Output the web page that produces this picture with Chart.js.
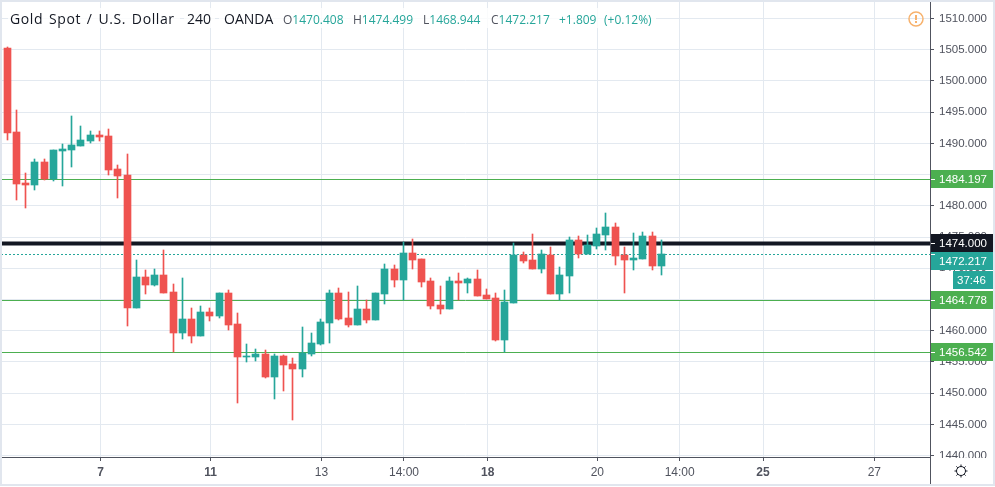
<!DOCTYPE html>
<html>
<head>
<meta charset="utf-8">
<title>Gold Spot / U.S. Dollar</title>
<script src="https://cdn.jsdelivr.net/npm/chart.js@4"></script>
<style>
    html, body { margin: 0; padding: 0; background: #fff; overflow: hidden; }
    #wrap { position: relative; width: 995px; height: 487px; }
    #priceChart { position: absolute; left: 0; top: 0; }
    #frame { position: absolute; left: 0; top: 0; width: 991px; height: 482px; border: 2px solid #e1e6ee; pointer-events: none; }
    .back { position: absolute; top: 8px; height: 20px; background: rgba(255, 255, 255, 0.8); }
    .head { position: absolute; top: 9px; white-space: pre; font-family: "Open Sans", sans-serif; }
    .title { font-size: 14px; color: #131722; }
    .wide { letter-spacing: 0.6px; word-spacing: 1.6px; }
    .ohlc { font-size: 12px; top: 11px; color: #26a69a; }
    .ohlc b { font-weight: normal; color: #50535e; }
</style>
</head>
<body>
<div id="wrap">
    <canvas id="priceChart" width="995" height="487"></canvas>
    <div class="back" style="left:8px;width:172px"></div>
    <div class="back" style="left:184px;width:31px"></div>
    <div class="back" style="left:219px;width:437px"></div>
    <span class="head title wide" style="left:10px">Gold Spot / U.S. Dollar</span>
    <span class="head title" style="left:187px">240</span>
    <span class="head title" style="left:224px">OANDA</span>
    <span class="head ohlc" style="left:283px"><b>O</b>1470.408</span>
    <span class="head ohlc" style="left:353px"><b>H</b>1474.499</span>
    <span class="head ohlc" style="left:423px"><b>L</b>1468.944</span>
    <span class="head ohlc" style="left:491px"><b>C</b>1472.217</span>
    <span class="head ohlc" style="left:559px">+1.809</span>
    <span class="head ohlc" style="left:604px">(+0.12%)</span>
    <div id="frame"></div>
</div>
<script>
// Candles
const openValues = [
    1505.22, 1491.77, 1483.65, 1483.37, 1487.01, 1484.24, 1488.77, 1488.93, 1489.57, 1490.37,
    1491.34, 1491.18, 1485.89, 1484.93, 1463.67, 1468.59, 1467.31, 1468.91, 1466.19, 1459.62,
    1461.86, 1459.14, 1462.98, 1462.34, 1466.03, 1461.06, 1455.78, 1455.78, 1456.26, 1452.57,
    1455.94, 1454.65, 1453.85, 1456.26, 1457.86, 1461.22, 1466.03, 1462.02, 1460.90, 1463.46,
    1461.70, 1465.87, 1469.87, 1468.11, 1472.43, 1471.47, 1467.95, 1464.11, 1463.46, 1467.95,
    1467.63, 1468.27, 1465.71, 1465.23, 1458.50, 1464.43, 1472.11, 1471.31, 1469.87, 1472.11,
    1465.87, 1468.75, 1474.52, 1472.27, 1473.56, 1475.32, 1476.60, 1472.11, 1471.31, 1471.47,
    1475.16, 1470.408
];
const highValues = [
    1505.38, 1495.34, 1485.25, 1487.49, 1487.49, 1488.93, 1489.89, 1494.38, 1492.78, 1491.98,
    1491.98, 1492.30, 1486.53, 1488.29, 1471.31, 1469.71, 1469.87, 1472.91, 1467.47, 1468.43,
    1463.62, 1463.94, 1463.62, 1466.03, 1466.51, 1462.82, 1457.86, 1457.06, 1456.90, 1456.26,
    1456.10, 1455.62, 1460.58, 1459.62, 1461.86, 1466.51, 1466.83, 1466.19, 1467.15, 1464.91,
    1466.03, 1470.67, 1470.51, 1474.20, 1474.68, 1471.47, 1468.43, 1467.15, 1468.59, 1469.23,
    1468.43, 1469.71, 1466.67, 1466.03, 1466.51, 1474.04, 1472.59, 1475.48, 1472.91, 1473.40,
    1470.19, 1475.00, 1475.16, 1475.32, 1476.44, 1478.84, 1477.24, 1473.40, 1475.64, 1475.80,
    1475.80, 1474.499
];
const lowValues = [
    1490.53, 1480.92, 1479.69, 1482.53, 1484.21, 1484.02, 1483.17, 1486.26, 1489.57, 1490.05,
    1490.37, 1484.93, 1481.24, 1460.74, 1463.67, 1465.87, 1467.15, 1466.03, 1456.53, 1458.66,
    1458.02, 1459.14, 1461.54, 1462.02, 1460.10, 1448.41, 1454.97, 1455.14, 1452.41, 1449.05,
    1450.33, 1445.68, 1452.57, 1455.94, 1457.70, 1458.02, 1461.70, 1460.58, 1460.90, 1461.22,
    1461.70, 1464.27, 1466.99, 1464.91, 1469.87, 1466.99, 1463.46, 1462.66, 1463.46, 1464.91,
    1466.03, 1465.55, 1465.07, 1458.34, 1456.58, 1464.43, 1470.83, 1469.87, 1469.23, 1465.87,
    1464.91, 1466.03, 1471.63, 1472.27, 1473.07, 1472.91, 1470.51, 1466.03, 1469.71, 1471.47,
    1469.71, 1468.944
];
const closeValues = [
    1491.70, 1483.53, 1483.33, 1487.01, 1484.24, 1488.93, 1489.09, 1489.73, 1490.53, 1491.34,
    1491.02, 1485.73, 1484.77, 1463.67, 1468.59, 1467.31, 1468.91, 1466.03, 1459.62, 1461.86,
    1459.14, 1462.98, 1462.34, 1466.03, 1460.90, 1455.78, 1455.94, 1456.26, 1452.57, 1455.94,
    1454.49, 1453.85, 1456.46, 1458.02, 1461.38, 1466.03, 1461.86, 1460.90, 1463.46, 1461.70,
    1466.03, 1469.87, 1468.11, 1472.43, 1471.31, 1467.79, 1463.94, 1463.46, 1467.95, 1467.63,
    1468.27, 1465.55, 1465.07, 1458.50, 1464.59, 1472.11, 1471.15, 1469.87, 1472.27, 1465.87,
    1468.91, 1474.52, 1472.27, 1473.72, 1475.48, 1476.60, 1471.95, 1471.31, 1471.63, 1475.16,
    1470.35, 1472.217
];

// Axis ticks
const yTickValues = [1440, 1445, 1450, 1455, 1460, 1465, 1470, 1475, 1480, 1485, 1490, 1495, 1500, 1505, 1510];
const xTickIndexes = [10.12, 22.06, 34.11, 43.07, 52.16, 64.06, 73.0, 82.05, 94.14];
const xTickLabels = ['7', '11', '13', '14:00', '18', '20', '14:00', '25', '27'];
const boldTickLabels = ['7', '11', '18', '25'];

// Horizontal levels drawn across the chart
const levelValues = [1484.197, 1464.778, 1456.542];
const supportValue = 1474.000;
const lastPrice = 1472.217;
const countdownText = '37:46';

const GREEN = '#26a69a';
const RED = '#ef5350';
const LEVEL_GREEN = '#4caf50';
const DARK = '#131722';
const AXIS_COLOR = '#50535e';
const GRID_COLOR = '#e3e9f0';
const LABEL_FAMILY = '"Liberation Sans", sans-serif';

const xMin = -0.684;
const xMax = 100.18;

const candleColors = closeValues.map((close, i) => close >= openValues[i] ? GREEN : RED);

function levelLine(value, color, width, dash) {
    return {
        type: 'line',
        data: [{ x: xMin, y: value }, { x: xMax, y: value }],
        borderColor: color,
        borderWidth: width,
        borderDash: dash || [],
        pointRadius: 0,
        order: 3
    };
}

// Chart.js reserves room for the outer tick labels, which would move the plot area
function clearPadding(axis) {
    axis.paddingTop = 0;
    axis.paddingBottom = 0;
    axis.paddingLeft = 0;
    axis.paddingRight = 0;
}

// Keep candles and level lines on whole pixels so they stay crisp
const snapPlugin = {
    id: 'snap',
    beforeDatasetsDraw(chart) {
        chart.data.datasets.forEach((dataset, index) => {
            chart.getDatasetMeta(index).data.forEach(el => {
                if (dataset.type === 'line') {
                    el.y = Math.floor(el.y) + 0.5;
                } else {
                    el.x = Math.floor(el.x) + 0.5;
                    el.y = Math.round(el.y);
                    el.base = Math.round(el.base);
                }
            });
        });
    }
};

function priceTag(ctx, text, y, color, markY) {
    ctx.fillStyle = color;
    ctx.fillRect(931, y - 9, 62, 18);
    ctx.fillStyle = '#fff';
    ctx.fillRect(931, markY, 4, 1);
    ctx.fillText(text, 939, y + 0.5);
}

// Price tags, time axis corner and the two small icons
const overlayPlugin = {
    id: 'overlay',
    afterDraw(chart) {
        const ctx = chart.ctx;
        const yScale = chart.scales.y;
        const px = value => Math.floor(yScale.getPixelForValue(value));
        ctx.save();

        // Clip the lowest axis label and carry the price axis line down
        ctx.fillStyle = '#fff';
        ctx.fillRect(931, 458, 62, 26);
        ctx.strokeStyle = AXIS_COLOR;
        ctx.lineWidth = 1;
        ctx.beginPath();
        ctx.moveTo(930.5, 457);
        ctx.lineTo(930.5, 484);
        ctx.stroke();

        ctx.font = '11.5px ' + LABEL_FAMILY;
        ctx.textAlign = 'left';
        ctx.textBaseline = 'middle';
        levelValues.forEach(value => {
            priceTag(ctx, value.toFixed(3), px(value), LEVEL_GREEN, px(value));
        });
        priceTag(ctx, lastPrice.toFixed(3), px(supportValue) + 18, GREEN, px(lastPrice));
        priceTag(ctx, supportValue.toFixed(3), px(supportValue), DARK, px(supportValue));

        ctx.fillStyle = GREEN;
        ctx.fillRect(953, 271, 40, 18);
        ctx.fillStyle = '#fff';
        ctx.fillText(countdownText, 957, 280.5);

        // Alert icon
        ctx.strokeStyle = '#f7b26d';
        ctx.lineWidth = 1.5;
        ctx.beginPath();
        ctx.arc(916, 19, 7, 0, Math.PI * 2);
        ctx.stroke();
        ctx.fillStyle = '#f7b26d';
        ctx.fillRect(915, 15, 2, 5);
        ctx.fillRect(915, 21, 2, 2);

        // Settings icon
        ctx.strokeStyle = DARK;
        ctx.lineWidth = 1;
        ctx.beginPath();
        ctx.arc(961, 471, 4.5, 0, Math.PI * 2);
        for (let i = 0; i < 8; i++) {
            const angle = i * Math.PI / 4;
            ctx.moveTo(961 + Math.cos(angle) * 4.5, 471 + Math.sin(angle) * 4.5);
            ctx.lineTo(961 + Math.cos(angle) * 6.5, 471 + Math.sin(angle) * 6.5);
        }
        ctx.stroke();
        ctx.restore();
    }
};

new Chart(document.getElementById('priceChart').getContext('2d'), {
    type: 'bar',
    data: {
        datasets: [
            {
                data: openValues.map((open, i) => ({ x: i, y: [open, closeValues[i]] })),
                backgroundColor: candleColors,
                barThickness: 7,
                grouped: false,
                order: 1
            },
            {
                data: lowValues.map((low, i) => ({ x: i, y: [low, highValues[i]] })),
                backgroundColor: candleColors,
                barThickness: 1,
                grouped: false,
                order: 2
            },
            levelLine(levelValues[0], LEVEL_GREEN, 1),
            levelLine(levelValues[1], LEVEL_GREEN, 1),
            levelLine(levelValues[2], LEVEL_GREEN, 1),
            levelLine(supportValue, DARK, 4),
            levelLine(lastPrice, GREEN, 1, [2, 2])
        ]
    },
    options: {
        responsive: false,
        animation: false,
        events: [],
        layout: { padding: { left: 1, top: 1, right: 2, bottom: 3 } },
        plugins: { legend: { display: false }, tooltip: { enabled: false } },
        scales: {
            x: {
                type: 'linear',
                offset: false,
                min: xMin,
                max: xMax,
                afterBuildTicks: axis => { axis.ticks = xTickIndexes.map(value => ({ value })); },
                afterFit: axis => { axis.height = 27; clearPadding(axis); },
                grid: { color: GRID_COLOR, tickColor: AXIS_COLOR, tickLength: 4, offset: false },
                border: { color: AXIS_COLOR },
                ticks: {
                    autoSkip: false,
                    maxRotation: 0,
                    padding: 4,
                    color: AXIS_COLOR,
                    font: ctx => ({
                        family: LABEL_FAMILY,
                        size: 12,
                        weight: ctx.tick && boldTickLabels.includes(ctx.tick.label) ? 'bold' : 'normal'
                    }),
                    callback: (value, index) => xTickLabels[index]
                }
            },
            y: {
                position: 'right',
                min: 1439.78,
                max: 1512.80,
                afterBuildTicks: axis => { axis.ticks = yTickValues.map(value => ({ value })); },
                afterFit: axis => { axis.width = 63; clearPadding(axis); },
                grid: { color: GRID_COLOR, tickColor: AXIS_COLOR, tickLength: 4 },
                border: { color: AXIS_COLOR },
                ticks: {
                    autoSkip: false,
                    padding: 5,
                    color: AXIS_COLOR,
                    font: { family: LABEL_FAMILY, size: 11.5 },
                    callback: value => value.toFixed(3)
                }
            }
        }
    },
    plugins: [snapPlugin, overlayPlugin]
});
</script>
</body>
</html>
